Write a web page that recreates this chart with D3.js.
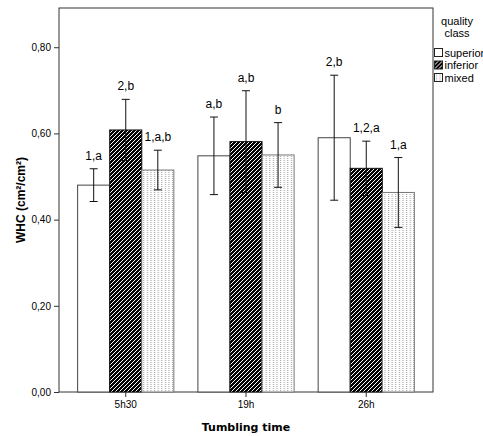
<!DOCTYPE html>
<html>
<head>
<meta charset="utf-8">
<script src="https://cdn.jsdelivr.net/npm/d3@7"></script>
<style>
  body { margin: 0; background: #fff; }
  svg { display: block; }
</style>
</head>
<body>
<div id="chart"></div>
<script>
// tumbling time groups and quality classes
const times = ["5h30", "19h", "26h"];
const qualityClasses = ["superior", "inferior", "mixed"];

// mean WHC per class (one value per tumbling time)
const superiorMeans = [0.480, 0.548, 0.590];
const inferiorMeans = [0.608, 0.581, 0.519];
const mixedMeans = [0.515, 0.550, 0.463];

// half width of the error bars
const superiorErr = [0.038, 0.090, 0.145];
const inferiorErr = [0.071, 0.118, 0.063];
const mixedErr = [0.046, 0.075, 0.081];

// significance letters above each bar
const superiorLabels = ["1,a", "a,b", "2,b"];
const inferiorLabels = ["2,b", "a,b", "1,2,a"];
const mixedLabels = ["1,a,b", "b", "1,a"];

const yTicks = [0, 0.2, 0.4, 0.6, 0.8];

const W = 483, H = 436;
const margin = { top: 8, right: 50, bottom: 44, left: 59 };
const plotW = W - margin.left - margin.right;
const plotH = H - margin.top - margin.bottom;
const sans = "Liberation Sans, Arial, sans-serif";

const means = [superiorMeans, inferiorMeans, mixedMeans];
const errs = [superiorErr, inferiorErr, mixedErr];
const labels = [superiorLabels, inferiorLabels, mixedLabels];

const data = [];
times.forEach((t, i) => {
    qualityClasses.forEach((c, j) => {
        data.push({ time: t, cls: c, mean: means[j][i], err: errs[j][i], label: labels[j][i] });
    });
});

const comma = d3.formatLocale({ decimal: ",", thousands: ".", grouping: [3], currency: ["", ""] });

const svg = d3.select("#chart").append("svg")
    .attr("width", W)
    .attr("height", H);

// fill patterns
const defs = svg.append("defs");
const hatch = defs.append("pattern")
    .attr("id", "hatch")
    .attr("patternUnits", "userSpaceOnUse")
    .attr("width", 4)
    .attr("height", 4);
hatch.append("rect").attr("width", 4).attr("height", 4).attr("fill", "#000");
hatch.append("path")
    .attr("d", "M-1,1 l2,-2 M0,4 l4,-4 M3,5 l2,-2")
    .attr("stroke", "#fff")
    .attr("stroke-width", 1.2)
    .attr("shape-rendering", "crispEdges");

const dots = defs.append("pattern")
    .attr("id", "dots")
    .attr("patternUnits", "userSpaceOnUse")
    .attr("width", 3.6)
    .attr("height", 2)
    .attr("x", 0.5);
dots.append("rect").attr("width", 3.6).attr("height", 2).attr("fill", "#fff");
dots.append("rect").attr("x", 1).attr("y", 0).attr("width", 1).attr("height", 1).attr("fill", "#999");

const fills = { superior: "#fff", inferior: "url(#hatch)", mixed: "url(#dots)" };
const strokes = { superior: "#444", inferior: "#111", mixed: "#777" };

const g = svg.append("g")
    .attr("transform", "translate(" + margin.left + "," + margin.top + ")");

const x0 = d3.scaleBand()
    .domain(times)
    .range([0, plotW])
    .paddingInner(0.2)
    .paddingOuter(0.155);

const x1 = d3.scaleBand()
    .domain(qualityClasses)
    .range([0, x0.bandwidth()]);

const y = d3.scaleLinear()
    .domain([0, 0.891])
    .range([plotH, 0]);

// frame
g.append("rect")
    .attr("width", plotW)
    .attr("height", plotH)
    .attr("fill", "none")
    .attr("stroke", "#333");

// bars
g.append("g").selectAll("rect")
    .data(data)
    .enter()
    .append("rect")
    .attr("x", d => x0(d.time) + x1(d.cls))
    .attr("y", d => y(d.mean))
    .attr("width", x1.bandwidth())
    .attr("height", d => y(0) - y(d.mean))
    .attr("fill", d => fills[d.cls])
    .attr("stroke", d => strokes[d.cls])
    .attr("stroke-width", 1);

// error bars
const eb = g.append("g").selectAll("g")
    .data(data)
    .enter()
    .append("g")
    .attr("transform", d => "translate(" + (x0(d.time) + x1(d.cls) + x1.bandwidth() / 2) + ",0)");

eb.append("line")
    .attr("y1", d => y(d.mean - d.err))
    .attr("y2", d => y(d.mean + d.err))
    .attr("stroke", "#111");
eb.append("line")
    .attr("x1", -4).attr("x2", 4)
    .attr("y1", d => y(d.mean + d.err))
    .attr("y2", d => y(d.mean + d.err))
    .attr("stroke", "#111");
eb.append("line")
    .attr("x1", -4).attr("x2", 4)
    .attr("y1", d => y(d.mean - d.err))
    .attr("y2", d => y(d.mean - d.err))
    .attr("stroke", "#111");

eb.append("text")
    .attr("y", d => y(d.mean + d.err) - 9)
    .attr("text-anchor", "middle")
    .attr("font-family", sans)
    .attr("font-size", "12px")
    .attr("fill", "#000")
    .text(d => d.label);

// axes
const yAxis = g.append("g")
    .call(d3.axisLeft(y).tickValues(yTicks).tickSize(5).tickPadding(3).tickFormat(comma.format(".2f")));
yAxis.select(".domain").remove();
yAxis.selectAll("line").attr("stroke", "#333");
yAxis.selectAll("text").attr("font-size", "10px").attr("font-family", sans).attr("fill", "#000");

const xAxis = g.append("g")
    .attr("transform", "translate(0," + plotH + ")")
    .call(d3.axisBottom(x0).tickSize(5).tickPadding(4).tickSizeOuter(0));
xAxis.select(".domain").remove();
xAxis.selectAll("line").attr("stroke", "#333");
xAxis.selectAll("text").attr("font-size", "10px").attr("font-family", sans).attr("fill", "#000");

// axis titles
svg.append("text")
    .attr("x", margin.left + x0(times[1]) + x0.bandwidth() / 2)
    .attr("y", 431)
    .attr("text-anchor", "middle")
    .attr("font-family", "DejaVu Sans, sans-serif")
    .attr("font-weight", "bold")
    .attr("font-size", "11px")
    .attr("fill", "#000")
    .text("Tumbling time");

svg.append("text")
    .attr("transform", "translate(25," + (margin.top + plotH / 2) + ") rotate(-90)")
    .attr("text-anchor", "middle")
    .attr("font-family", sans)
    .attr("font-weight", "bold")
    .attr("font-size", "12px")
    .attr("fill", "#000")
    .text("WHC (cm²/cm²)");

// legend
const legend = svg.append("g").attr("transform", "translate(" + (margin.left + plotW) + ",0)");
legend.append("text")
    .attr("x", 24).attr("y", 25)
    .attr("text-anchor", "middle")
    .attr("font-family", sans)
    .attr("font-size", "11px")
    .attr("fill", "#000")
    .text("quality");
legend.append("text")
    .attr("x", 24).attr("y", 37)
    .attr("text-anchor", "middle")
    .attr("font-family", sans)
    .attr("font-size", "11px")
    .attr("fill", "#000")
    .text("class");

const items = legend.selectAll(".item")
    .data(qualityClasses)
    .enter()
    .append("g")
    .attr("class", "item")
    .attr("transform", (d, i) => "translate(1.5," + (48.5 + i * 12.5) + ")");
items.append("rect")
    .attr("width", 8)
    .attr("height", 8)
    .attr("fill", d => fills[d])
    .attr("stroke", "#222");
items.append("text")
    .attr("x", 10)
    .attr("y", 8)
    .attr("font-family", sans)
    .attr("font-size", "11px")
    .attr("fill", "#000")
    .text(d => d);
</script>
</body>
</html>
